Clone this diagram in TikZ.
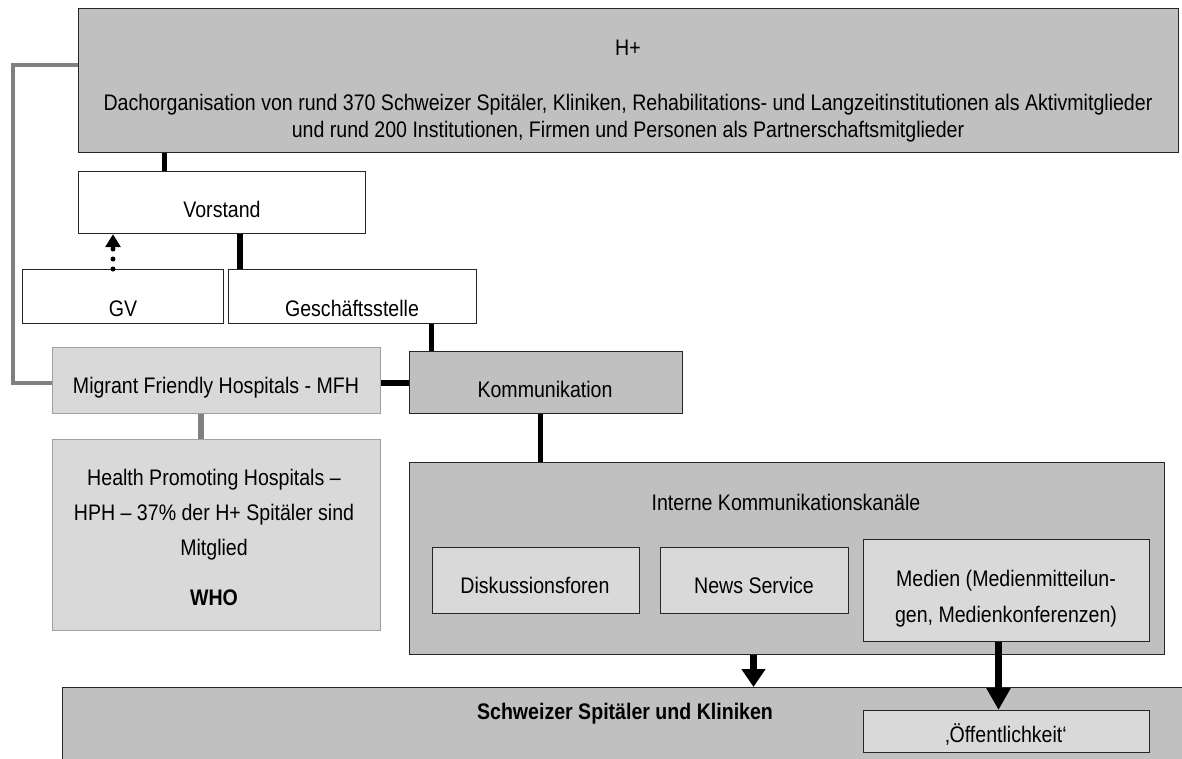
\documentclass[tikz,border=0pt]{standalone}
\usepackage{fontspec}
\setmainfont{Liberation Sans}[FakeStretch=0.87]
\usetikzlibrary{arrows.meta}
\definecolor{dgray}{HTML}{C0C0C0}
\definecolor{lgray}{HTML}{D9D9D9}
\definecolor{lgborder}{HTML}{A0A0A0}
\definecolor{conng}{HTML}{808080}
\begin{document}
\begin{tikzpicture}[x=1pt,y=-1pt,
  box/.style={draw=black!85, line width=1.2pt, inner sep=0pt, anchor=north west},
  darkbox/.style={box, fill=dgray},
  whitebox/.style={box, fill=white},
  lightbox/.style={box, fill=lgray},
  softbox/.style={box, fill=lgray, draw=lgborder},
  txt/.style={anchor=base, inner sep=0pt, font=\fontsize{22.5}{27}\selectfont},
  btxt/.style={txt, font=\fontsize{22.5}{27}\selectfont\bfseries},
  link/.style={draw=black, line width=5pt},
  glink/.style={draw=conng, line width=4.5pt},
  arr/.style={draw=black, line width=6.5pt, -{Triangle[width=23pt,length=18pt]}},
  bigarr/.style={draw=black, line width=6.5pt, -{Triangle[width=23pt,length=22pt]}}
]
\useasboundingbox (0,0) rectangle (1182,758);
\clip (0,0) rectangle (1182,758);
\fill[white] (0,0) rectangle (1182,758);

% boxes
\node[darkbox, minimum width=1100pt, minimum height=144pt] (hplus) at (78,8) {};
\node[whitebox, minimum width=287pt, minimum height=62pt] (vorstand) at (78,171) {};
\node[whitebox, minimum width=201pt, minimum height=54pt] (gv) at (22,269) {};
\node[whitebox, minimum width=248pt, minimum height=54pt] (gs) at (228,269) {};
\node[softbox, minimum width=328pt, minimum height=66pt] (mfh) at (52,347) {};
\node[darkbox, minimum width=273pt, minimum height=62pt] (kom) at (409,351) {};
\node[softbox, minimum width=328pt, minimum height=191pt] (hph) at (52,439) {};
\node[darkbox, minimum width=755pt, minimum height=192pt] (interne) at (409,462) {};
\node[lightbox, minimum width=207pt, minimum height=66pt] (disk) at (432,547) {};
\node[lightbox, minimum width=188pt, minimum height=66pt] (news) at (660,547) {};
\node[lightbox, minimum width=286pt, minimum height=102pt] (medien) at (863,539) {};
\node[darkbox, minimum width=1200pt, minimum height=120pt] (schweiz) at (62,687) {};
\node[lightbox, minimum width=286pt, minimum height=42pt] (oeff) at (863,710) {};

% texts
\node[txt] (thplus) at (628,55) {H+};
\node[txt] (tdesc1) at (628,110) {Dachorganisation von rund 370 Schweizer Spitäler, Kliniken, Rehabilitations- und Langzeitinstitutionen als Aktivmitglieder};
\node[txt] (tdesc2) at (628,137) {und rund 200 Institutionen, Firmen und Personen als Partnerschaftsmitglieder};
\node[txt] (tvorstand) at (222,217) {Vorstand};
\node[txt] (tgv) at (123,316) {GV};
\node[txt] (tgs) at (352,316) {Geschäftsstelle};
\node[txt] (tmfh) at (216,393) {Migrant Friendly Hospitals - MFH};
\node[txt] (tkom) at (545,397) {Kommunikation};
\node[txt] (thph1) at (214,485) {Health Promoting Hospitals –};
\node[txt] (thph2) at (214,520) {HPH – 37\% der H+ Spitäler sind};
\node[txt] (thph3) at (214,555) {Mitglied};
\node[btxt] (twho) at (214,605) {WHO};
\node[txt] (tinterne) at (786,510) {Interne Kommunikationskanäle};
\node[txt] (tdisk) at (535,593) {Diskussionsforen};
\node[txt] (tnews) at (754,593) {News Service};
\node[txt] (tmed1) at (1006,586) {Medien (Medienmitteilun-};
\node[txt] (tmed2) at (1006,622) {gen, Medienkonferenzen)};
\node[btxt] (tschweiz) at (625,719) {Schweizer Spitäler und Kliniken};
\node[txt] (toeff) at (1006,742) {‚Öffentlichkeit‘};

% helper coordinates
\coordinate (xa) at (164.5,0);
\coordinate (xb) at (240,0);
\coordinate (xc) at (431.5,0);
\coordinate (xd) at (540.5,0);
\coordinate (xe) at (113,0);
\coordinate (xf) at (201,0);
\coordinate (xg) at (753.5,0);
\coordinate (xh) at (998.5,0);
\coordinate (y383) at (0,383);
\coordinate (g1) at (13.3,64.7);
\coordinate (g2) at (13.3,383);

% connectors
\draw[link] (hplus.south -| xa) -- (vorstand.north -| xa);
\draw[link, line width=6.5pt] (vorstand.south -| xb) -- (gs.north -| xb);
\draw[link, line width=5.5pt] (gs.south -| xc) -- (kom.north -| xc);
\draw[link, line width=6.5pt] (mfh.east |- y383) -- (kom.west |- y383);
\draw[link] (kom.south -| xd) -- (interne.north -| xd);
\draw[glink, line join=miter, line width=4.2pt] (hplus.west |- g1) -- (g1) -- (g2) -- (mfh.west |- g2);
\draw[glink, line width=5.5pt] (mfh.south -| xf) -- (hph.north -| xf);
\draw[draw=black, line width=5pt, dash pattern=on 0pt off 10pt, line cap=round,
      -{Triangle[width=15pt,length=13pt]}] (gv.north -| xe) -- (vorstand.south -| xe);
\draw[arr] (interne.south -| xg) -- (schweiz.north -| xg);
\draw[bigarr] (medien.south -| xh) -- (oeff.north -| xh);
\end{tikzpicture}
\end{document}
